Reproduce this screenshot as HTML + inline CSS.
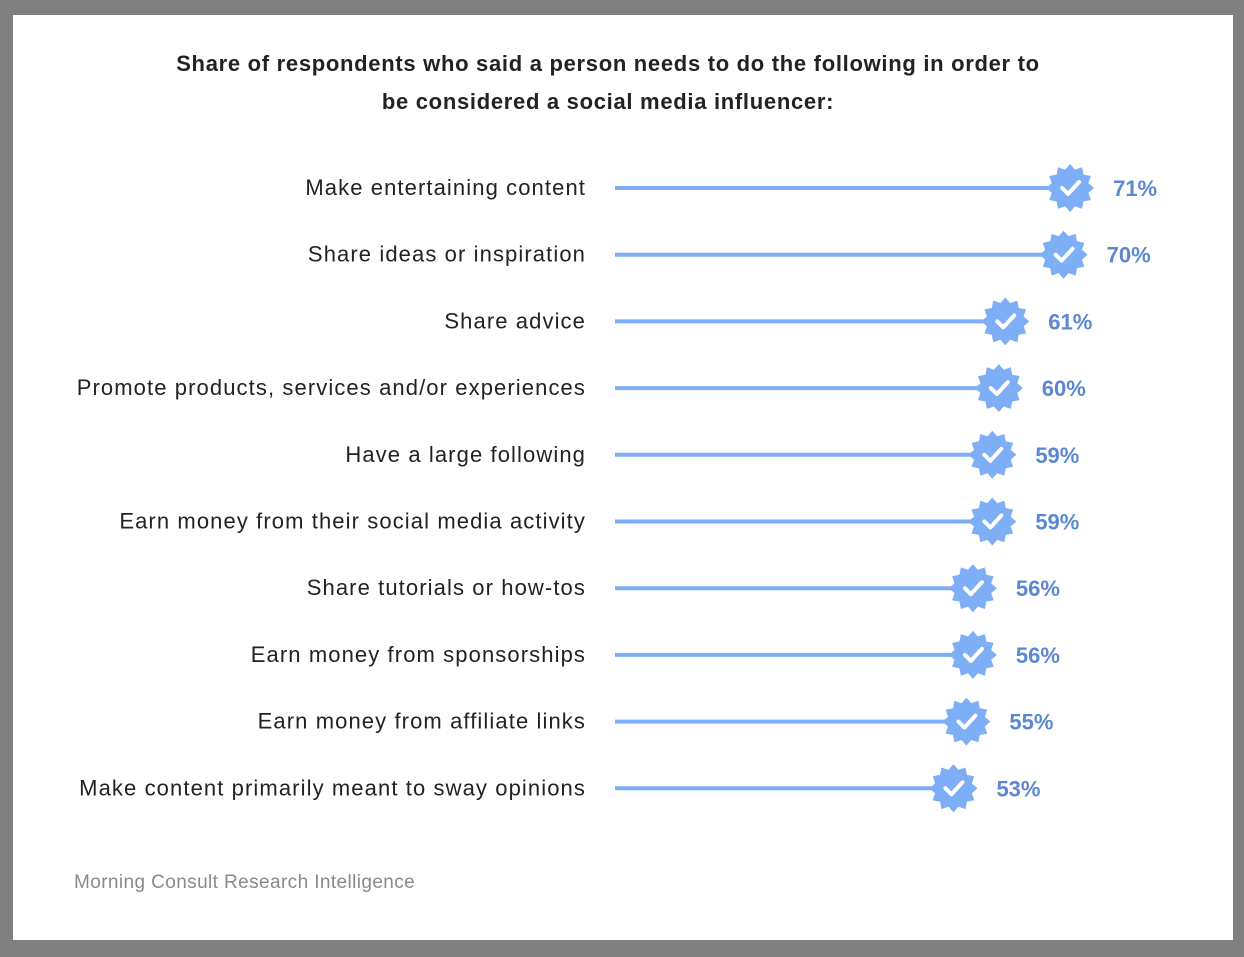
<!DOCTYPE html>
<html><head><meta charset="utf-8"><style>
html,body{margin:0;padding:0;background:#808080;}
body{width:1244px;height:957px;position:relative;overflow:hidden;font-family:"Liberation Sans",sans-serif;}
#card{position:absolute;left:13px;top:15px;width:1220px;height:925px;background:#fff;}
#title{position:absolute;left:13px;top:45px;width:1190px;text-align:center;font-weight:bold;font-size:22px;line-height:38px;color:#222;letter-spacing:0.7px;}
#src{position:absolute;left:74px;top:872px;font-size:19px;color:#8a8a8a;letter-spacing:0.4px;}
svg{position:absolute;left:0;top:0;}
</style></head><body>
<div id="card"></div>
<div id="title">Share of respondents who said a person needs to do the following in order to<br>be considered a social media influencer:</div>
<svg id="chart" width="1244" height="957"></svg>
<div id="src">Morning Consult Research Intelligence</div>
<script>
const categories=["Make entertaining content","Share ideas or inspiration","Share advice","Promote products, services and/or experiences","Have a large following","Earn money from their social media activity","Share tutorials or how-tos","Earn money from sponsorships","Earn money from affiliate links","Make content primarily meant to sway opinions"];
const values=[71,70,61,60,59,59,56,56,55,53];
const valueLabels=["71%","70%","61%","60%","59%","59%","56%","56%","55%","53%"];
const NS="http://www.w3.org/2000/svg";
const svg=document.getElementById('chart');
const x=v=>610+v*6.48;
const y=i=>188+i*66.7;
function mk(t,a){const e=document.createElementNS(NS,t);for(const k in a)e.setAttribute(k,a[k]);return e;}
function star(cx,cy){let p=[];for(let i=0;i<24;i++){const r=i%2?19:24;const a=Math.PI*i/12;p.push((cx+r*Math.sin(a)).toFixed(1)+','+(cy-r*Math.cos(a)).toFixed(1));}return p.join(' ');}
categories.forEach((c,i)=>{
  const cy=y(i),cx=x(values[i]);
  const t=mk('text',{x:586,y:cy+7,'text-anchor':'end','font-size':22,'letter-spacing':'1.1',fill:'#222'});t.textContent=c;
  
  
  svg.appendChild(t);
  const l=mk('line',{x1:615,x2:cx,y1:cy,y2:cy,stroke:'#7eaef6','stroke-width':4});
  
  
  svg.appendChild(l);
  const b=mk('polygon',{points:star(cx,cy),fill:'#7eaef6'});
  
  
  svg.appendChild(b);
  const ck=mk('polyline',{points:`${cx-8},${cy} ${cx-2},${cy+6} ${cx+9},${cy-6}`,fill:'none',stroke:'#fff','stroke-width':4,'stroke-linecap':'round','stroke-linejoin':'round'});
  
  
  svg.appendChild(ck);
  const v=mk('text',{x:cx+43,y:cy+8,'font-size':22,'font-weight':'bold',fill:'#5b88d2'});v.textContent=valueLabels[i];
  
  
  svg.appendChild(v);
});
</script>
</body></html>
